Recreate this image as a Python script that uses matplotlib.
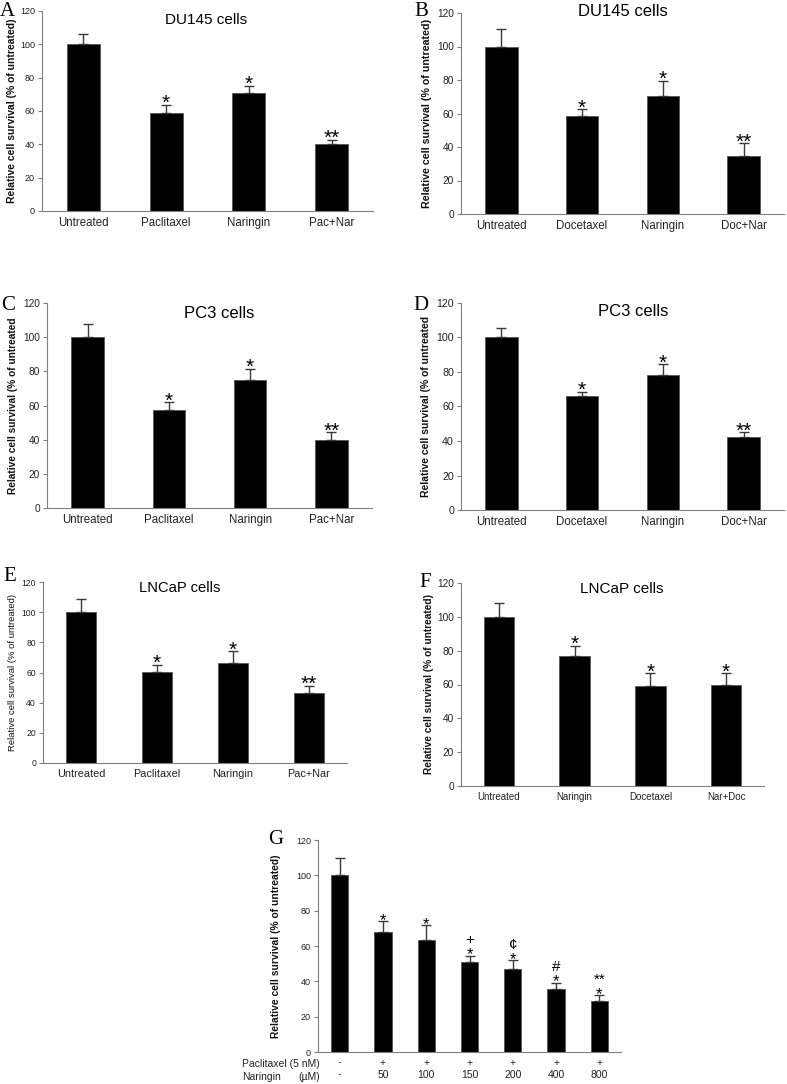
import matplotlib.pyplot as plt
from matplotlib import font_manager

W, H = 787, 1084

# panel A: DU145, paclitaxel
a_labels = ['Untreated', 'Paclitaxel', 'Naringin', 'Pac+Nar']
a_values = [100, 59, 71, 40]
a_errors = [6, 4.8, 4, 2.6]
a_marks = ['', '*', '*', '**']

# panel B: DU145, docetaxel
b_labels = ['Untreated', 'Docetaxel', 'Naringin', 'Doc+Nar']
b_values = [100, 58.5, 70.2, 34.6]
b_errors = [10.5, 4, 9.5, 7.6]
b_marks = ['', '*', '*', '**']

# panel C: PC3, paclitaxel
c_labels = ['Untreated', 'Paclitaxel', 'Naringin', 'Pac+Nar']
c_values = [100, 57.6, 75, 39.9]
c_errors = [7.8, 4.2, 6.4, 4.4]
c_marks = ['', '*', '*', '**']

# panel D: PC3, docetaxel
d_labels = ['Untreated', 'Docetaxel', 'Naringin', 'Doc+Nar']
d_values = [100, 65.8, 78, 42.2]
d_errors = [5.3, 2.6, 6.5, 2.8]
d_marks = ['', '*', '*', '**']

# panel E: LNCaP, paclitaxel
e_labels = ['Untreated', 'Paclitaxel', 'Naringin', 'Pac+Nar']
e_values = [100, 60.6, 66.6, 46.2]
e_errors = [8.6, 4.7, 7.5, 4.8]
e_marks = ['', '*', '*', '**']

# panel F: LNCaP, docetaxel
f_labels = ['Untreated', 'Naringin', 'Docetaxel', 'Nar+Doc']
f_values = [100, 77, 59, 60]
f_errors = [8.2, 6, 7.7, 6.7]
f_marks = ['', '*', '*', '*']

# panel G: paclitaxel 5 nM + naringin dose series
g_pac = ['-', '+', '+', '+', '+', '+', '+']
g_nar = ['-', '50', '100', '150', '200', '400', '800']
g_values = [100, 68, 63.2, 51, 46.8, 35.8, 29]
g_errors = [9.8, 5.9, 8.6, 3.5, 5, 3.4, 3]
g_stars = ['', '*', '*', '*', '*', '*', '*']
g_upper = ['', '', '', '+', '¢', '#', '**']

YLAB = 'Relative cell survival (% of untreated)'
YLAB_CUT = 'Relative cell survival (% of untreated'

names = {f.name for f in font_manager.fontManager.ttflist}
SANS = 'Liberation Sans'
NARROW = 'Liberation Sans Narrow' if 'Liberation Sans Narrow' in names else SANS
NARROW_FS = 10 if NARROW != SANS else 8.3
SERIF = 'Liberation Serif'
plt.rcParams['font.family'] = [SANS, 'DejaVu Sans']

fig = plt.figure(figsize=(W / 100, H / 100), dpi=100)


def fx(x):
    return x / W


def fy(y):
    return 1 - y / H


def panel(box, labels, values, errors, marks, ylab, ylab_x, tick_fs, lab_fs,
          lab_font, ylab_fs, ylab_w, star_fs=15, star_off=-3, lab_pad=4):
    x0, y0, x1, y1 = box
    ax = fig.add_axes([fx(x0), fy(y1), (x1 - x0) / W, (y1 - y0) / H])
    n = len(values)
    xs = range(n)
    ax.bar(xs, values, width=0.4, color='black', edgecolor='#555555',
           linewidth=0.6, zorder=2)
    ax.errorbar(xs, values, yerr=[[0] * n, errors], fmt='none',
                ecolor='#3a3a3a', elinewidth=1, capsize=3.5, capthick=1,
                zorder=3)
    for i, m in enumerate(marks):
        if m:
            ax.annotate(m, (i, values[i] + errors[i]), xytext=(0, star_off),
                        textcoords='offset points', ha='center',
                        va='baseline', fontsize=star_fs)
    ax.set_xlim(-0.5, n - 0.5)
    ax.set_ylim(0, 120)
    ax.set_yticks(range(0, 121, 20))
    ax.tick_params(axis='y', labelsize=tick_fs, length=3, width=0.8,
                   color='#808080', labelcolor='#222222', pad=2)
    ax.set_xticks(list(xs))
    if labels is not None:
        ax.set_xticklabels(labels, fontsize=lab_fs, family=lab_font,
                           color='#222222')
    ax.tick_params(axis='x', length=0, pad=lab_pad)
    for s in ('top', 'right'):
        ax.spines[s].set_visible(False)
    for s in ('left', 'bottom'):
        ax.spines[s].set_color('#808080')
        ax.spines[s].set_linewidth(0.8)
    ax.set_ylabel(ylab, fontsize=ylab_fs, fontweight=ylab_w, va='center',
                  color='#111111')
    ax.yaxis.set_label_coords((ylab_x - x0) / (x1 - x0), 0.5)
    return ax


panel((42, 11, 373, 211), a_labels, a_values, a_errors, a_marks, YLAB, 12,
      6.5, NARROW_FS, NARROW, 7.5, 'bold')
panel((461, 13, 784, 214), b_labels, b_values, b_errors, b_marks, YLAB, 427,
      7.3, NARROW_FS, NARROW, 7.7, 'bold')
panel((47, 303, 372, 508), c_labels, c_values, c_errors, c_marks, YLAB_CUT, 13,
      7.3, NARROW_FS, NARROW, 7.3, 'bold')
panel((461, 303, 784, 510), d_labels, d_values, d_errors, d_marks, YLAB_CUT, 426,
      7.7, NARROW_FS, NARROW, 7.5, 'bold')
panel((43, 582, 347, 763), e_labels, e_values, e_errors, e_marks, YLAB, 13,
      6.2, 7.8, SANS, 6.8, 'normal')
panel((461, 583, 764, 786), f_labels, f_values, f_errors, f_marks, YLAB, 429,
      7.3, 7, SANS, 7.3, 'bold')

axg = panel((318, 840, 621, 1052), None, g_values, g_errors, g_stars, YLAB, 276,
            6.5, 7.5, SANS, 7.4, 'bold', star_fs=12, star_off=-2.6)
axg.set_xticklabels([p + '\n' + q for p, q in zip(g_pac, g_nar)],
                    fontsize=7.5, linespacing=1.25, color='#222222')
for i, m in enumerate(g_upper):
    if m:
        axg.annotate(m, (i, g_values[i] + g_errors[i]), xytext=(0, 8.5),
                     textcoords='offset points', ha='center', va='baseline',
                     fontsize=11)
fig.text(fx(242), fy(1064), 'Paclitaxel (5 nM)', fontsize=7.5,
         ha='left', va='center', color='#222222')
fig.text(fx(242), fy(1077), 'Naringin', fontsize=7.5,
         ha='left', va='center', color='#222222')
fig.text(fx(320), fy(1077), '(µM)', fontsize=7.5,
         ha='right', va='center', color='#222222')

# panel titles
titles = [('DU145 cells', 206, 20, 11), ('DU145 cells', 623, 12, 12),
          ('PC3 cells', 219, 314, 12), ('PC3 cells', 633, 312, 12),
          ('LNCaP cells', 180, 588, 10.6), ('LNCaP cells', 622, 589, 11)]
for t, x, y, s in titles:
    fig.text(fx(x), fy(y), t, fontsize=s, ha='center', va='center')

# panel letters
letters = [('A', 0, 2), ('B', 414, 2), ('C', 1, 296), ('D', 413, 296),
           ('E', 3, 567), ('F', 419, 573), ('G', 268, 830)]
for t, x, y in letters:
    fig.text(fx(x), fy(y), t, fontsize=15, family=SERIF, ha='left', va='top')

fig.savefig('out.png', dpi=100)
